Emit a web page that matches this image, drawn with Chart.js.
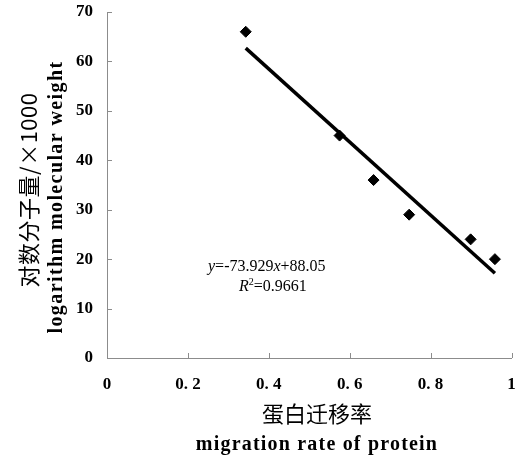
<!DOCTYPE html>
<html><head><meta charset="utf-8">
<script src="https://cdn.jsdelivr.net/npm/chart.js@4"></script>
<style>html,body{margin:0;padding:0;background:#fff;}#wrap{width:518px;height:457px;}</style>
</head><body><div id="wrap"><canvas id="c" width="518" height="457"></canvas></div>
<script>
// ---- data ----
const migrationRate = [0.343, 0.575, 0.659, 0.747, 0.899, 0.959];
const logMolWeight  = [66, 45, 36, 29, 24, 20];
const fitSlope = -73.929;
const fitIntercept = 88.05;
const fitR2 = '0.9661';
const xTickValues = [0, 0.2, 0.4, 0.6, 0.8, 1];
const xTickLabels = ['0', '0. 2', '0. 4', '0. 6', '0. 8', '1'];
const yTickValues = [0, 10, 20, 30, 40, 50, 60, 70];
const yTickLabels = ['0', '10', '20', '30', '40', '50', '60', '70'];
const yTitleLines = ['对数分子量/×1000', 'logarithm molecular weight'];
const xTitleLines = ['蛋白迁移率', 'migration rate of protein'];

// ---- derived ----
const points = migrationRate.map((x, i) => ({x: x, y: logMolWeight[i]}));
const xMin = Math.min(...migrationRate), xMax = Math.max(...migrationRate);
const fitLine = [xMin, xMax].map(x => ({x: x, y: fitSlope * x + fitIntercept}));

const SERIF = '"Liberation Serif", "Times New Roman", serif';
const CJK = '"Noto Sans CJK SC", sans-serif';
const AXIS_COLOR = '#8c8c8c';

const innerTicks = {
  id: 'innerTicks',
  afterDraw(chart) {
    const ctx = chart.ctx, xs = chart.scales.x, ys = chart.scales.y;
    ctx.save();
    ctx.strokeStyle = AXIS_COLOR; ctx.lineWidth = 1;
    ctx.beginPath();
    xTickValues.forEach(v => {
      const p = Math.round(xs.getPixelForValue(v)) + 0.5;
      ctx.moveTo(p, ys.bottom); ctx.lineTo(p, ys.bottom - 5);
    });
    yTickValues.forEach(v => {
      const p = Math.round(ys.getPixelForValue(v)) + 0.5;
      ctx.moveTo(xs.left, p); ctx.lineTo(xs.left + 5, p);
    });
    ctx.stroke();
    ctx.restore();
  }
};

function drawRuns(ctx, runs, x, y) {
  runs.forEach(r => {
    ctx.font = r.font;
    ctx.fillText(r.t, x, y + (r.dy || 0));
    x += ctx.measureText(r.t).width;
  });
}

const annotations = {
  id: 'annotations',
  afterDraw(chart) {
    const ctx = chart.ctx;
    ctx.save();
    ctx.fillStyle = '#000';
    ctx.textBaseline = 'alphabetic';
    ctx.textAlign = 'left';
    const it = 'italic 16px ' + SERIF, rg = '16px ' + SERIF;
    drawRuns(ctx, [
      {t: 'y', font: it}, {t: '=' + fitSlope + '', font: rg},
      {t: 'x', font: it}, {t: '+' + fitIntercept, font: rg}
    ], 208, 271);
    drawRuns(ctx, [
      {t: 'R', font: it}, {t: '2', font: '10px ' + SERIF, dy: -6},
      {t: '=' + fitR2, font: rg}
    ], 239, 291);

    // axis titles
    ctx.textAlign = 'center';
    ctx.textBaseline = 'middle';
    ctx.save();
    ctx.translate(29, 190); ctx.rotate(-Math.PI / 2);
    ctx.font = '22px ' + CJK;
    ctx.letterSpacing = '0.5px';
    ctx.fillText(yTitleLines[0], 0, 0);
    ctx.restore();
    ctx.save();
    ctx.translate(57, 197); ctx.rotate(-Math.PI / 2);
    ctx.font = 'bold 20px ' + SERIF;
    ctx.letterSpacing = '1.4px';
    ctx.fillText(yTitleLines[1], 0, 0);
    ctx.restore();

    ctx.font = '22px ' + CJK;
    ctx.letterSpacing = '0px';
    ctx.fillText(xTitleLines[0], 317, 414);
    ctx.font = 'bold 20px ' + SERIF;
    ctx.letterSpacing = '1.2px';
    ctx.fillText(xTitleLines[1], 317, 445);
    ctx.restore();
  }
};

const whiteBg = {
  id: 'whiteBg',
  beforeDraw(chart) {
    const ctx = chart.ctx;
    ctx.save(); ctx.fillStyle = '#fff';
    ctx.fillRect(0, 0, chart.width, chart.height); ctx.restore();
  }
};

new Chart(document.getElementById('c'), {
  type: 'scatter',
  data: {
    datasets: [
      {
        type: 'line',
        data: fitLine,
        borderColor: '#000',
        borderWidth: 3.5,
        pointRadius: 0,
        fill: false,
        order: 2
      },
      {
        data: points,
        backgroundColor: '#000',
        borderColor: '#000',
        borderWidth: 1,
        pointStyle: 'rectRot',
        pointRadius: 5.5,
        order: 1
      }
    ]
  },
  options: {
    responsive: false,
    devicePixelRatio: 1,
    animation: false,
    layout: {padding: {top: 12, right: 3, left: 0, bottom: 0}},
    plugins: {legend: {display: false}, tooltip: {enabled: false}},
    scales: {
      x: {
        type: 'linear', min: 0, max: 1,
        grid: {display: false, drawTicks: false},
        border: {color: AXIS_COLOR, width: 1},
        afterBuildTicks: s => { s.ticks = xTickValues.map(v => ({value: v})); },
        ticks: {
          autoSkip: false, maxRotation: 0, padding: 16, color: '#000',
          font: {family: SERIF, weight: 'bold', size: 17},
          callback: (v, i) => xTickLabels[i]
        },
        afterFit: s => { s.height = 99; s.paddingLeft = 0; s.paddingRight = 0; }
      },
      y: {
        min: 0, max: 70,
        grid: {display: false, drawTicks: false},
        border: {color: AXIS_COLOR, width: 1},
        afterBuildTicks: s => { s.ticks = yTickValues.map(v => ({value: v})); },
        ticks: {
          autoSkip: false, padding: 14, color: '#000',
          font: {family: SERIF, weight: 'bold', size: 17},
          callback: (v, i) => yTickLabels[i]
        },
        afterFit: s => { s.width = 107; s.paddingTop = 0; s.paddingBottom = 0; }
      }
    }
  },
  plugins: [whiteBg, innerTicks, annotations]
});
</script>
</body></html>
